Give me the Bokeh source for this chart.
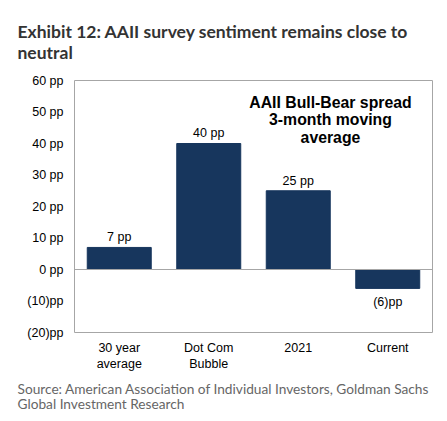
from bokeh.plotting import figure
from bokeh.models import Range1d, FactorRange, Span, ColumnDataSource, Title
from bokeh.core.properties import value
from bokeh.embed import file_html
from bokeh.resources import INLINE

categories = ["30 year\naverage", "Dot Com\nBubble", "2021", "Current"]
values = [7, 40, 25, -6]
value_labels = ["7 pp", "40 pp", "25 pp", "(6)pp"]
y_ticks = [-20, -10, 0, 10, 20, 30, 40, 50, 60]
y_tick_labels = ["(20)pp", "(10)pp", "0 pp", "10 pp", "20 pp", "30 pp", "40 pp", "50 pp", "60 pp"]
title_lines = ["Exhibit 12: AAII survey sentiment remains close to", "neutral"]
source_lines = ["Source: American Association of Individual Investors, Goldman Sachs",
                "Global Investment Research"]
note_lines = ["AAII Bull-Bear spread", "3-month moving", "average"]

W, H = 447, 421
FL = 74
p = figure(width=W, height=H, x_range=FactorRange(*categories), y_range=Range1d(-20, 60),
           output_backend="svg", toolbar_location=None,
           min_border_left=FL, min_border_right=15, min_border_top=79, min_border_bottom=89)
p.background_fill_color = "white"
p.border_fill_color = "white"
p.outline_line_color = "#A6A6A6"
p.outline_line_width = 1
p.xgrid.visible = False
p.ygrid.visible = False

bar_color = "#17365D"
src = ColumnDataSource(dict(x=categories, top=values))
p.vbar(x="x", top="top", bottom=0, width=0.715, color=bar_color, source=src)
p.add_layout(Span(location=0, dimension="width", line_color="#A6A6A6", line_width=1))

pos = ColumnDataSource(dict(x=[c for c, v in zip(categories, values) if v >= 0],
                            y=[v + 1.0 for v in values if v >= 0],
                            t=[l for l, v in zip(value_labels, values) if v >= 0]))
neg = ColumnDataSource(dict(x=[c for c, v in zip(categories, values) if v < 0],
                            y=[v - 2 for v in values if v < 0],
                            t=[l for l, v in zip(value_labels, values) if v < 0]))
p.text(x="x", y="y", text="t", source=pos, text_align="center", text_baseline="bottom",
       text_font=value("Liberation Sans"), text_font_size="12.5px", text_color="#000000")
p.text(x="x", y="y", text="t", source=neg, text_align="center", text_baseline="top",
       text_font=value("Liberation Sans"), text_font_size="12.5px", text_color="#000000")

# note inside chart (x in category units, y in data units)
p.text(x=[2.86] * 3, y=[53.1 - i * 5.6 for i in range(3)], text=note_lines,
       text_align="center", text_baseline="alphabetic",
       text_font=value("Liberation Sans"), text_font_style="bold",
       text_font_size="15.8px", text_color="#000000")

p.yaxis.ticker = y_ticks
p.yaxis.major_label_overrides = {t: l for t, l in zip(y_ticks, y_tick_labels)}
for ax in (p.xaxis, p.yaxis):
    ax.axis_line_color = None
    ax.major_tick_line_color = None
    ax.minor_tick_line_color = None
    ax.major_label_text_font = "Liberation Sans"
    ax.major_label_text_color = "#000000"
    ax.major_tick_out = 0
    ax.major_tick_in = 0
p.yaxis.major_label_text_font_size = "12.5px"
p.xaxis.major_label_text_font_size = "12.5px"
p.yaxis.major_label_standoff = 11
p.xaxis.major_label_standoff = 8

p.add_layout(Title(text="\n".join(title_lines), align="left", offset=17 - FL,
                   text_font="Lato", text_font_style="bold", text_font_size="17.5px",
                   text_color="#333333", text_line_height=1.0, standoff=36), "above")
p.add_layout(Title(text="\n".join(source_lines), align="left", offset=17 - FL,
                   text_font="Lato", text_font_style="normal", text_font_size="13.7px",
                   text_color="#666666", text_line_height=0.92, standoff=6), "below")

open("out.html", "w").write(file_html(p, INLINE))
